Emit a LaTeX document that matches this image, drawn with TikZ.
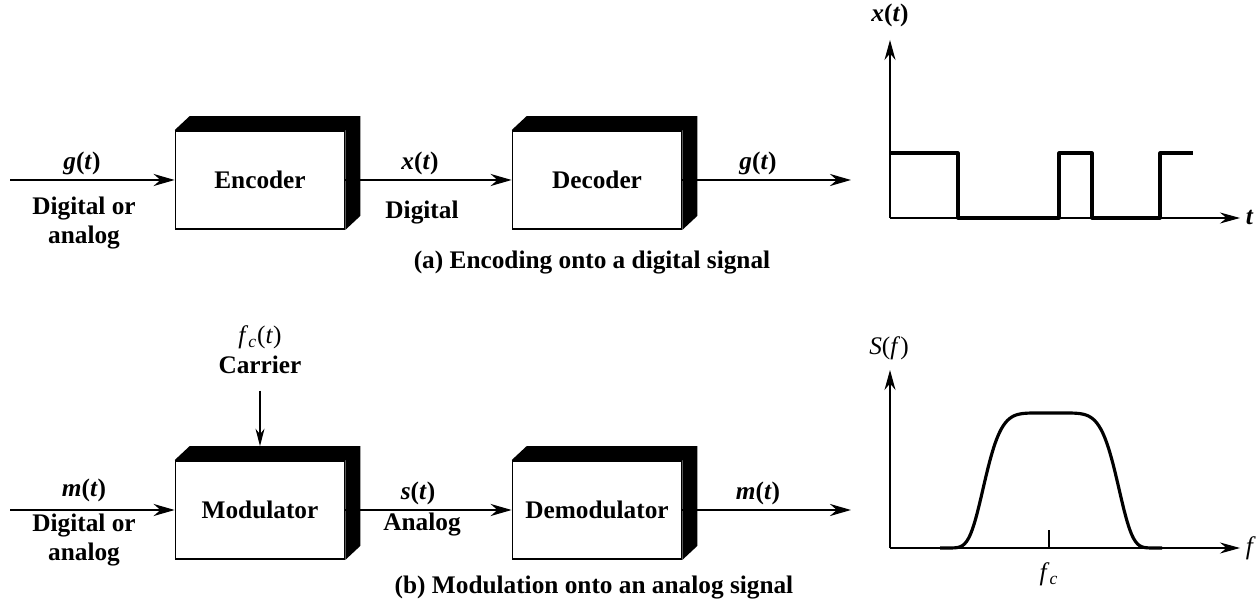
\documentclass[tikz,border=0pt]{standalone}
\usepackage{fontspec}
\setmainfont{Liberation Serif}
\usetikzlibrary{arrows.meta}

\begin{document}
\begin{tikzpicture}[x=0.02cm,y=-0.02cm,
		every node/.style={font=\fontsize{14.4}{16.4}\selectfont\bfseries},
		light/.style={font=\fontsize{14.4}{16.4}\selectfont\mdseries},
		block/.style={draw,line width=1pt,fill=white,minimum width=3.38cm,minimum height=1.96cm,inner sep=0pt},
		flow/.style={line width=1.4pt,-{Stealth[length=4.2mm,width=2.4mm]}},
		feed/.style={line width=0.6pt,-{Stealth[length=3.5mm,width=1.8mm]}},
		axis/.style={line width=0.6pt,-{Stealth[length=4mm,width=2.2mm]}},
		signal/.style={line width=1.8pt,line join=round}]
	\useasboundingbox (0,0) rectangle (1257,607);
	% (a) encoding
	\coordinate (ain) at (10,180);
	\coordinate (aout) at (851,180);
	\node[block] (enc) at (260,180) {Encoder};
	\node[block] (dec) at (597,180) {Decoder};
	\draw[flow] (ain) -- (enc.west);
	\draw[flow] (enc.east) -- (dec.west);
	\draw[flow] (dec.east) -- (aout);
	\node (gin) at (82,163) {\textit{g}(\textit{t})};
	\node[align=center] (ginkind) at (84,223) {Digital or\\analog};
	\node (xt) at (420,163) {\textit{x}(\textit{t})};
	\node (xtkind) at (422,213) {Digital};
	\node (gout) at (758,163) {\textit{g}(\textit{t})};
	\node (capa) at (592,263) {(a) Encoding onto a digital signal};
	% (b) modulation
	\coordinate (bin) at (10,510);
	\coordinate (bout) at (851,510);
	\node[block] (mod) at (260,510) {Modulator};
	\node[block] (demod) at (597,510) {Demodulator};
	\draw[flow] (bin) -- (mod.west);
	\draw[flow] (mod.east) -- (demod.west);
	\draw[flow] (demod.east) -- (bout);
	\node[light] (fct) at (260,337) {\textit{f}\textsubscript{\textit{c}}(\textit{t})};
	\node (carrier) at (260,365) {Carrier};
	\draw[feed,shorten <=6pt] (carrier.south) -- ([shift={(0,-14)}]mod.north);
	\node (min) at (84,490) {\textit{m}(\textit{t})};
	\node[align=center] (minkind) at (84,540) {Digital or\\analog};
	\node (st) at (418,493) {\textit{s}(\textit{t})};
	\node (stkind) at (422,525) {Analog};
	\node (mout) at (758,493) {\textit{m}(\textit{t})};
	\node (capb) at (594,588) {(b) Modulation onto an analog signal};
	% block depth
	\foreach \b in {enc,dec,mod,demod}
	\fill (\b.north west) -- ++(15,-14) -- ([shift={(15,-14)}]\b.north east) -- ([shift={(15,-14)}]\b.south east) -- (\b.south east) -- (\b.north east) -- cycle;
	% x(t)
	\coordinate (oa) at (890,218);
	\draw[axis] (oa) -- (890,40);
	\draw[axis] (oa) -- (1240,218) node[right,inner sep=3pt] (tlab) {\textit{t}};
	\node (xlab) at (890,15) {\textit{x}(\textit{t})};
	\draw[signal] (890,153) -- (958,153) -- (958,218) -- (1059,218) -- (1059,153) -- (1092,153) -- (1092,218) -- (1160,218) -- (1160,153) -- (1193,153);
	% S(f)
	\coordinate (ob) at (890,548);
	\draw[axis] (ob) -- (890,370);
	\draw[axis] (ob) -- (1240,548) node[light,right,inner sep=3pt] (flab) {\textit{f}};
	\node[light] (slab) at (889,348) {\textit{S}(\textit{f})};
	\draw[line width=0.6pt] (1049,530) -- (1049,548);
	\node[light] (fclab) at (1049,574) {\textit{f}\textsubscript{\textit{c}}};
	\draw[signal] plot[domain=940:1162,samples=110,smooth] (\x,{548-135*exp(-(abs(\x-1051)/70.2)^6)});
\end{tikzpicture}
\end{document}
